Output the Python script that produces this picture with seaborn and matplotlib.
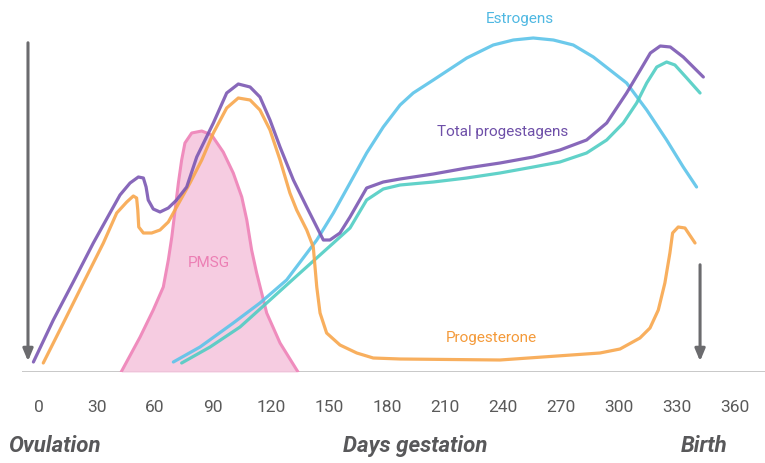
import numpy as np
import pandas as pd
import matplotlib
matplotlib.use('Agg')
import matplotlib.pyplot as plt
import seaborn as sns

# Courbes (jours de gestation, niveau relatif)
prog_tot_days = [-2.9, 7.4, 17.7, 28.1, 36.7, 41.9, 47.1, 51.4, 54.0, 55.4, 56.5, 59.1, 62.6,
                 66.9, 71.2, 76.4, 81.6, 90.2, 97.1, 103.1, 109.2, 114.3, 119.5, 124.7, 131.6,
                 138.5, 143.7, 147.1, 150.5, 155.7, 160.9, 169.5, 178.1, 186.8, 204.0, 221.3,
                 238.5, 255.7, 269.5, 283.3, 293.7, 304.0, 311.1, 316.3, 321.4, 326.6, 333.3,
                 343.7]
prog_tot_vals = [10, 52, 90, 129, 159, 177, 189, 195, 194, 185, 172, 163, 160,
                 164, 172, 185, 215, 249, 279, 288, 285, 275, 252, 225, 192,
                 165, 145, 132, 132, 139, 155, 184, 190, 193, 198, 204,
                 209, 215, 222, 232, 249, 279, 302, 319, 326, 325, 315,
                 295]

progesterone_days = [2.2, 12.6, 22.9, 33.3, 40.2, 45.4, 48.8, 50.5, 51.1, 51.6, 54.0, 58.3, 62.6,
                     66.9, 71.2, 78.1, 84.2, 90.2, 97.1, 103.1, 109.2, 114.3, 119.5, 124.7,
                     129.8, 133.3, 138.5, 141.9, 143.7, 145.4, 148.8, 155.7, 164.4, 172.9, 186.8,
                     238.5, 290.2, 300.6, 310.9, 316.1, 320.4, 323.8, 326.4, 327.8, 330.7, 334.2,
                     339.4]
progesterone_vals = [9, 49, 89, 129, 159, 170, 176, 174, 162, 145, 139, 139, 142,
                     150, 165, 189, 212, 239, 264, 274, 272, 262, 242, 212,
                     179, 162, 142, 125, 85, 59, 39, 27, 19, 14, 13,
                     12, 19, 23, 34, 44, 62, 89, 119, 139, 145, 144,
                     129]

estrogen_days = [69.5, 83.3, 100.5, 114.3, 128.1, 143.7, 152.3, 160.9, 169.5, 178.1, 186.8, 193.6,
                 204.0, 221.3, 235.0, 245.4, 255.7, 266.1, 276.4, 286.8, 295.4, 304.0, 314.4,
                 324.7, 333.3, 340.2]
estrogen_vals = [10, 25, 49, 69, 92, 132, 159, 189, 219, 245, 267, 279,
                 292, 314, 327, 332, 334, 332, 327, 315, 302, 289, 262,
                 232, 205, 185]

teal_days = [73.8, 88.5, 104.0, 117.8, 135.0, 152.3, 160.9, 169.5, 178.1, 186.8, 204.0, 221.3,
             238.5, 255.7, 269.5, 283.3, 293.7, 302.3, 309.2, 314.4, 319.6, 324.7, 329.0,
             335.1, 342.0]
teal_vals = [9, 25, 45, 69, 99, 129, 144, 172, 183, 187, 190, 194,
             199, 205, 210, 219, 232, 249, 269, 289, 305, 310, 307,
             294, 279]

pmsg_days = [42.5, 52.3, 59.1, 64.3, 66.9, 68.7, 70.4, 72.1, 73.8, 75.5, 79.0, 84.2,
             89.3, 95.3, 100.5, 104.9, 107.5, 110.0, 112.6, 117.8, 124.7, 134.0]
pmsg_vals = [0, 35, 62, 85, 112, 135, 162, 189, 212, 229, 239, 241,
             237, 220, 199, 175, 152, 122, 99, 59, 29, 0]

tick_days = [0, 30, 60, 90, 120, 150, 180, 210, 240, 270, 300, 330, 360]

sns.set_theme(style='white')
plt.rcParams['font.family'] = ['Liberation Sans Narrow', 'Roboto', 'DejaVu Sans']

fig = plt.figure(figsize=(7.65, 4.63), dpi=100)
ax = fig.add_axes([22 / 765, 91 / 463, 743 / 765, 372 / 463])

# PMSG (aire remplie)
ax.fill_between(pmsg_days, pmsg_vals, 0, color='#f5c3dc', alpha=0.85, lw=0, zorder=1)
sns.lineplot(x=pmsg_days, y=pmsg_vals, ax=ax, color='#ef8cbd', lw=2.2, sort=False,
             estimator=None, zorder=2, solid_joinstyle='round')

series = [
    (estrogen_days, estrogen_vals, '#5cc4e9'),
    (teal_days, teal_vals, '#50cdc3'),
    (progesterone_days, progesterone_vals, '#f8a64c'),
    (prog_tot_days, prog_tot_vals, '#7b58b3'),
]
for xs, ys, c in series:
    sns.lineplot(x=xs, y=ys, ax=ax, color=c, lw=2.3, sort=False, estimator=None,
                 alpha=0.9, zorder=3, solid_capstyle='round', solid_joinstyle='round')

# fleches ovulation / naissance
arrow_kw = dict(arrowstyle='-|>,head_width=0.25,head_length=0.6', color='#6b6b6e', lw=2.2)
ax.annotate('', xy=(-5.7, 8), xytext=(-5.7, 332), arrowprops=arrow_kw)
ax.annotate('', xy=(342.0, 8), xytext=(342.0, 110), arrowprops=arrow_kw)

# textes des courbes
ax.text(249, 353, 'Estrogens', color='#4fb8e2', fontsize=11, ha='center', va='center')
ax.text(240, 240, 'Total progestagens', color='#6e4fa8', fontsize=11, ha='center', va='center')
ax.text(88, 109, 'PMSG', color='#ec7fb4', fontsize=11, ha='center', va='center')
ax.text(234, 34, 'Progesterone', color='#f49a3a', fontsize=11, ha='center', va='center')

ax.axhline(0, color='#c4c4c4', lw=1.3, zorder=0)
ax.set_xlim(-8.8, 375.6)
ax.set_ylim(0, 372)
ax.set_xticks(tick_days)
ax.set_xticklabels([str(t) for t in tick_days], color='#5a5a5a', fontsize=12.5)
ax.tick_params(axis='x', length=0, pad=20)
ax.set_yticks([])
sns.despine(ax=ax, left=True, bottom=True)

fig.text(8 / 765, 1 - 446 / 463, 'Ovulation', fontsize=16, fontweight='bold', style='italic',
         color='#58585a', ha='left', va='center')
fig.text(415 / 765, 1 - 446 / 463, 'Days gestation', fontsize=16, fontweight='bold',
         style='italic', color='#58585a', ha='center', va='center')
fig.text(704 / 765, 1 - 446 / 463, 'Birth', fontsize=16, fontweight='bold', style='italic',
         color='#58585a', ha='center', va='center')

fig.savefig('out.png', dpi=100)
